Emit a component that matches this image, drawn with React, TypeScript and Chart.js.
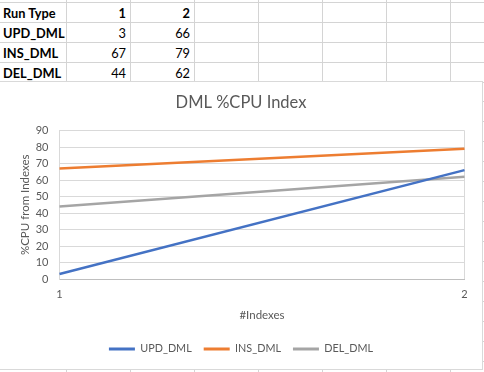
import React, { useEffect, useRef } from 'react';
import { Chart, registerables } from 'chart.js';

Chart.register(...registerables);

// ---- data ----
const headerLabel = 'Run Type';
const categories = ['1', '2'];
const seriesNames = ['UPD_DML', 'INS_DML', 'DEL_DML'];
const updDml = [3, 66];
const insDml = [67, 79];
const delDml = [44, 62];
const seriesValues = [updDml, insDml, delDml];
const seriesColors = ['#4472C4', '#ED7D31', '#A5A5A5'];
const chartTitle = 'DML %CPU Index';
const xTitle = '#Indexes';
const yTitle = '%CPU from Indexes';
const yMin = 0;
const yMax = 90;
const yStep = 10;

const FONT = 'Lato';
const TEXT = '#595959';
const SHEET_FONT = 'Lato';
const GRID = '#d4d4d4';

const colLines = [66, 130, 194, 258, 322, 386, 450];
const rowLines = Array.from({ length: 20 }, (_, i) => Math.round(1.7 + 19.95 * i));

function ChartBox() {
  const ref = useRef<HTMLCanvasElement | null>(null);
  useEffect(() => {
    if (!ref.current) return;
    const chart = new Chart(ref.current, {
      type: 'line',
      data: {
        labels: categories,
        datasets: seriesNames.map((name, i) => ({
          label: name,
          data: seriesValues[i],
          borderColor: seriesColors[i],
          backgroundColor: seriesColors[i],
          borderWidth: 2.5,
          pointRadius: 0,
          tension: 0,
          fill: false,
        })),
      },
      options: {
        animation: false,
        responsive: false,
        maintainAspectRatio: false,
        layout: { padding: { left: 17.5, right: 17.5, top: 0, bottom: 4.6 } },
        plugins: {
          title: {
            display: true,
            text: chartTitle,
            color: TEXT,
            font: { family: FONT, size: 16.5, weight: 'normal' },
            padding: { top: 11.1, bottom: 17.6 },
          },
          legend: {
            position: 'bottom',
            labels: {
              color: TEXT,
              font: { family: FONT, size: 10.8 },
              boxWidth: 26,
              boxHeight: 3,
              padding: 12,
              generateLabels: (c: any) =>
                c.data.datasets.map((ds: any, i: number) => ({
                  text: ds.label,
                  fillStyle: ds.borderColor,
                  strokeStyle: ds.borderColor,
                  lineWidth: 0,
                  fontColor: TEXT,
                  hidden: false,
                  datasetIndex: i,
                })),
            },
          },
          tooltip: { enabled: false },
        },
        scales: {
          x: {
            type: 'category',
            offset: false,
            grid: { display: true, color: '#d9d9d9', drawTicks: false },
            border: { display: true, color: '#bfbfbf' },
            ticks: { color: TEXT, font: { family: FONT, size: 11 }, padding: 9, maxRotation: 0 },
            title: {
              display: true,
              text: xTitle,
              color: TEXT,
              font: { family: FONT, size: 11.5 },
              padding: { top: 0, bottom: 9.7 },
            },
            afterFit: (s: any) => {
              s.height = 52.6;
            },
          },
          y: {
            min: yMin,
            max: yMax,
            grid: { color: '#d9d9d9', drawTicks: false },
            border: { display: true, color: '#d9d9d9' },
            ticks: { stepSize: yStep, color: TEXT, font: { family: FONT, size: 11 }, padding: 11 },
            title: {
              display: true,
              text: yTitle,
              color: TEXT,
              font: { family: FONT, size: 11.5 },
              padding: { top: 0.6, bottom: 0 },
            },
            afterFit: (s: any) => {
              s.width = 42;
            },
          },
        },
      },
    });
    return () => chart.destroy();
  }, []);
  return <canvas ref={ref} width={482} height={287} style={{ display: 'block', width: 482, height: 287 }} />;
}

export default function App() {
  const tableRows: { label: string; values: (string | number)[]; bold: boolean }[] = [
    { label: headerLabel, values: categories, bold: true },
    ...seriesNames.map((n, i) => ({ label: n, values: seriesValues[i], bold: false })),
  ];
  return (
    <div
      style={{
        position: 'fixed',
        left: 0,
        top: 0,
        width: 484,
        height: 372,
        background: '#fff',
        overflow: 'hidden',
      }}
    >
      {rowLines.map((y, i) => (
        <div key={'r' + i} style={{ position: 'absolute', left: 0, top: y, width: 484, height: 1, background: GRID }} />
      ))}
      {colLines.map((x, i) => (
        <div key={'c' + i} style={{ position: 'absolute', left: x, top: 0, width: 1, height: 372, background: GRID }} />
      ))}
      {tableRows.map((row, r) => {
        const top = rowLines[r] + 2;
        const h = rowLines[r + 1] - rowLines[r] - 1;
        return (
          <React.Fragment key={'t' + r}>
            <div
              style={{
                position: 'absolute',
                left: 3,
                top,
                height: h,
                lineHeight: h + 'px',
                fontFamily: SHEET_FONT,
                fontSize: 12.8,
                fontWeight: 'bold',
                color: '#000',
                whiteSpace: 'nowrap',
              }}
            >
              {row.label}
            </div>
            {row.values.map((v, c) => (
              <div
                key={c}
                style={{
                  position: 'absolute',
                  left: colLines[c],
                  width: colLines[c + 1] - colLines[c] - 4,
                  top,
                  height: h,
                  lineHeight: h + 'px',
                  textAlign: 'right',
                  fontFamily: SHEET_FONT,
                  fontSize: 12.8,
                  fontWeight: row.bold ? 'bold' : 'normal',
                  color: '#000',
                }}
              >
                {v}
              </div>
            ))}
          </React.Fragment>
        );
      })}
      <div
        style={{
          position: 'absolute',
          left: -1,
          top: 81,
          width: 484,
          height: 289,
          boxSizing: 'border-box',
          border: '1px solid #d9d9d9',
          background: '#fff',
        }}
      >
        <ChartBox />
      </div>
    </div>
  );
}
